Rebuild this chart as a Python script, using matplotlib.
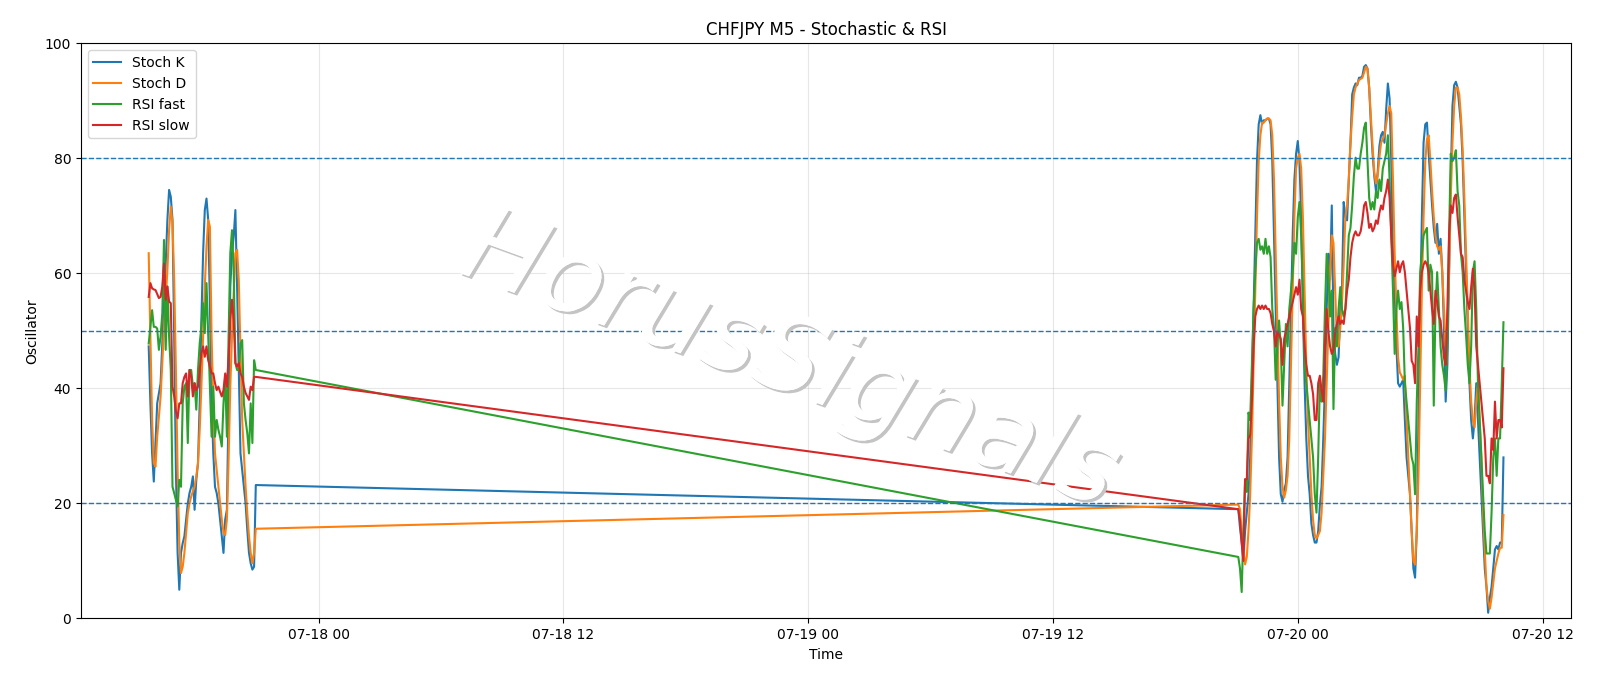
import matplotlib
matplotlib.use("Agg")
import matplotlib.pyplot as plt
import matplotlib.dates as mdates
import matplotlib.patheffects as pe
import pandas as pd

# M5 bars: Friday afternoon session, then Sunday night / Monday morning
times_1 = pd.date_range("2020-07-17 15:40", periods=64, freq="5min")
times_2 = pd.date_range("2020-07-19 21:05", periods=157, freq="5min")

stoch_k_1 = [47.3, 37.4, 28.7, 23.8, 30.5, 37.4, 39.2, 40.9, 47.8, 54.8,
             61.7, 69.3, 74.5, 73.3, 69.3, 49.0, 25.8, 11.4, 5.0, 11.4,
             13.1, 14.3, 17.2, 20.0, 21.8, 22.9, 24.7, 18.9, 24.1, 27.0,
             37.4, 51.9, 63.5, 71.0, 73.0, 69.3, 54.8, 37.4, 28.7, 22.9,
             21.8, 20.0, 17.2, 14.3, 11.4, 17.2, 18.9, 37.4, 57.7, 63.5,
             66.4, 71.0, 57.7, 43.2, 28.7, 25.8, 22.9, 20.0, 15.4, 11.4,
             9.6, 8.5, 9.0, 23.2]
stoch_d_1 = [63.5, 49.0, 34.5, 27.0, 26.4, 31.6, 35.1, 38.6, 44.4, 50.2,
             55.4, 60.6, 67.5, 71.6, 68.7, 58.8, 43.2, 25.8, 13.1, 7.9,
             9.0, 11.4, 14.8, 18.3, 20.0, 21.2, 22.1, 22.9, 24.7, 27.0,
             32.8, 40.3, 49.0, 57.7, 64.6, 69.3, 68.1, 49.0, 37.4, 28.7,
             25.8, 22.9, 20.0, 17.2, 15.0, 14.5, 17.2, 27.6, 40.3, 49.0,
             56.5, 63.5, 64.1, 58.8, 46.1, 34.5, 28.7, 22.9, 18.3, 14.3,
             11.4, 9.6, 11.4, 15.6]
rsi_fast_1 = [47.8, 50.7, 53.6, 50.7, 50.7, 50.4, 46.7, 49.0, 53.1, 65.8,
              46.7, 57.7, 49.0, 43.2, 22.9, 21.8, 20.6, 19.5, 24.1, 22.9,
              37.4, 40.3, 40.9, 30.5, 43.2, 43.2, 40.3, 40.9, 36.3, 43.2,
              47.8, 50.7, 54.8, 49.6, 58.3, 49.0, 40.3, 31.6, 40.3, 31.6,
              34.5, 32.8, 31.6, 29.9, 37.4, 42.0, 31.6, 49.0, 63.5, 67.5,
              60.6, 44.4, 43.2, 43.2, 47.8, 48.4, 37.4, 34.5, 32.2, 28.7,
              37.4, 30.5, 44.9, 43.2]
rsi_slow_1 = [55.9, 58.3, 57.4, 57.2, 57.1, 56.4, 55.7, 55.9, 57.7, 61.7,
              55.4, 57.7, 55.1, 54.8, 40.3, 38.6, 36.0, 34.8, 37.4, 37.4,
              40.9, 42.0, 42.6, 38.6, 43.2, 42.0, 38.6, 40.9, 39.7, 40.3,
              43.2, 46.1, 47.3, 45.5, 47.3, 44.9, 43.8, 42.6, 42.6, 40.9,
              39.7, 40.3, 39.4, 38.6, 39.7, 42.6, 40.3, 45.5, 51.9, 55.4,
              51.9, 44.4, 43.8, 44.4, 42.6, 42.0, 40.3, 39.2, 38.6, 38.0,
              40.3, 39.7, 42.0, 42.0]

stoch_k_2 = [19.0, 15.8, 13.2, 10.0, 15.2, 18.4, 21.6, 28.0, 40.9, 53.8,
             66.6, 79.5, 85.9, 87.5, 85.9, 86.6, 86.6, 86.9, 86.9, 85.9,
             79.5, 66.6, 53.8, 40.9, 28.0, 21.6, 20.3, 22.3, 23.5, 28.0,
             40.9, 53.8, 66.6, 76.3, 80.8, 83.0, 79.5, 69.8, 53.8, 40.9,
             31.3, 24.8, 21.6, 16.5, 14.5, 13.2,
             13.2, 15.2, 19.7, 22.9, 31.3, 40.9, 53.8, 63.4, 58.9, 71.8,
             50.5, 46.0, 44.1, 45.4, 53.8, 57.0, 72.4, 69.8, 69.2, 76.3,
             82.7, 91.1, 92.3, 93.0, 92.7, 94.0, 94.0, 94.3, 95.9,
             96.2, 95.6, 92.3, 85.9, 80.8, 76.9, 74.3, 77.6, 82.1,
             84.0, 84.6, 82.7, 88.5, 93.0, 90.4, 79.5, 63.4, 57.0, 47.3,
             40.9, 40.3, 40.9, 41.5,
             34.5, 28.0, 24.8, 21.6, 15.2, 8.7, 7.1, 15.2, 34.5, 53.8,
             69.8, 82.7, 85.9, 86.2, 80.8, 76.3, 71.8, 67.9, 65.3, 68.6,
             63.4, 66.0, 60.2, 50.5, 37.7, 44.1, 60.2, 76.3, 89.1, 92.7,
             93.3, 92.3, 89.1, 85.9, 79.5, 69.8, 60.2, 50.5, 40.9, 34.5,
             31.3, 34.5, 40.9, 34.5, 28.0, 21.6, 15.2, 8.7, 5.5, 1.0,
             3.6, 5.5, 8.7, 12.0, 12.6, 12.0, 13.2, 13.2, 28.0]
stoch_d_2 = [19.8, 19.0, 15.2, 12.0, 9.4, 10.7, 15.2, 21.6, 31.3, 44.1,
             57.0, 69.8, 79.5, 84.0, 86.2, 86.2, 86.6, 86.9, 86.9, 86.6,
             84.0, 76.3, 63.4, 50.5, 37.7, 28.0, 22.9, 21.0, 22.3, 24.8,
             31.3, 44.1, 57.0, 69.8, 78.2, 80.1, 80.8, 78.2, 69.8, 57.0,
             44.1, 34.5, 28.0, 21.6, 17.1, 14.5,
             13.9, 14.5, 15.2, 18.4, 24.8, 31.3, 40.9, 50.5, 60.2, 66.6,
             65.3, 57.0, 48.6, 47.3, 50.5, 55.0, 61.5, 69.8, 71.8, 76.3,
             82.7, 87.2, 91.1, 92.3, 93.0, 93.6, 93.8, 94.0, 94.9,
             95.9, 95.6, 92.3, 87.2, 82.1, 77.6, 75.6, 76.9, 80.1,
             82.7, 83.3, 84.0, 85.9, 87.8, 89.1, 87.8, 76.3, 63.4, 53.8,
             45.4, 42.8, 42.2, 41.5,
             42.2, 34.5, 28.0, 21.6, 15.2, 10.0, 9.4, 15.2, 24.8, 40.9,
             57.0, 69.8, 79.5, 83.3, 84.0, 79.5, 74.3, 69.8, 66.6, 64.7,
             64.1, 64.7, 60.2, 53.8, 47.3, 50.5, 60.2, 73.1, 82.7, 89.1,
             92.3, 92.3, 91.1, 87.2, 81.4, 73.1, 63.4, 53.8, 44.1, 37.7,
             34.5, 33.2, 37.7, 40.9, 34.5, 28.0, 18.4, 12.0, 5.5, 3.0,
             1.7, 3.6, 6.2, 8.7, 10.0, 11.3, 12.3, 12.3, 18.0]
rsi_fast_2 = [10.7, 8.7, 4.6, 15.2, 24.2, 22.0, 35.8, 34.5, 44.1, 53.8,
              60.2, 65.3, 66.0, 64.1, 64.7, 63.4, 66.0, 63.4, 64.7, 62.8,
              53.8, 50.5, 41.5, 47.3, 51.8, 47.3, 37.0, 44.1, 51.2, 47.3,
              53.8, 57.0, 60.2, 65.3, 63.4, 69.8, 72.4, 66.6, 57.0, 44.1,
              40.9, 37.7, 34.5, 31.3, 28.0, 21.6,
              18.4, 28.0, 40.9, 37.7, 42.2, 53.8, 63.4, 60.2, 52.5, 57.0,
              36.4, 50.5, 47.3, 53.8, 57.6, 53.8, 52.5, 53.8, 60.2, 66.6,
              67.9, 71.8, 76.9, 80.1, 78.2, 78.2, 80.8, 82.7, 85.3,
              86.2, 79.5, 73.1, 71.1, 72.4, 71.1, 74.3, 73.1, 76.3,
              74.3, 78.2, 79.5, 80.8, 84.0, 76.3, 66.6, 57.0, 46.0, 53.8,
              57.0, 53.8, 55.0, 50.5,
              40.9, 37.7, 34.5, 31.3, 28.0, 26.8, 21.6, 37.7, 47.3, 60.2,
              63.4, 66.6, 67.3, 67.9, 57.0, 61.5, 60.2, 37.0, 53.8, 60.2,
              53.8, 47.3, 44.1, 42.2, 39.6, 47.3, 66.6, 80.8, 79.5, 80.1,
              81.4, 74.3, 71.8, 63.4, 60.2, 53.8, 49.3, 44.1, 40.9, 47.3,
              60.2, 62.1, 53.8, 40.9, 34.5, 28.0, 21.6, 15.2, 11.3, 11.3,
              11.3, 18.4, 28.0, 31.3, 24.8, 31.3, 31.3, 40.9, 51.5]
rsi_slow_2 = [19.0, 17.1, 13.2, 10.0, 24.2, 24.2, 31.3, 31.9, 37.7, 47.3,
              52.5, 53.8, 54.4, 53.8, 54.4, 53.8, 54.4, 53.8, 53.8, 53.1,
              51.2, 49.9, 47.3, 49.9, 49.3, 48.6, 44.1, 48.6, 49.9, 51.2,
              52.5, 53.8, 55.0, 56.3, 57.6, 56.3, 58.9, 53.8, 52.5, 47.3,
              44.1, 42.2, 42.2, 40.9, 39.0, 34.5,
              34.5, 40.9, 42.2, 39.6, 37.7, 47.3, 53.8, 49.9, 47.3, 46.0,
              46.7, 49.9, 51.2, 52.5, 51.2, 51.8, 51.2, 53.8, 57.0, 58.9,
              62.8, 65.3, 66.6, 67.3, 66.6, 66.6, 67.3, 69.2, 71.8,
              72.4, 70.5, 67.9, 68.6, 67.3, 67.9, 69.2, 68.6, 70.5,
              71.8, 71.1, 73.1, 74.3, 76.3, 73.1, 66.6, 61.5, 59.5, 60.8,
              62.1, 60.2, 61.5, 62.1,
              60.2, 57.0, 53.8, 50.5, 44.8, 44.1, 40.9, 52.5, 47.3, 57.0,
              60.2, 61.5, 62.1, 61.5, 60.2, 57.0, 53.8, 51.2, 57.0, 55.0,
              52.5, 51.8, 48.6, 45.4, 44.1, 53.8, 66.6, 71.8, 70.5, 73.1,
              73.7, 69.8, 66.6, 63.4, 62.8, 58.9, 57.0, 55.0, 53.8, 57.6,
              60.8, 57.0, 47.3, 44.1, 40.9, 37.7, 34.5, 31.3, 24.8, 24.8,
              23.5, 31.3, 29.3, 37.7, 31.3, 34.5, 34.5, 33.2, 43.5]

levels = [20, 50, 80]

times = times_1.append(times_2)
df = pd.DataFrame({
    "Stoch K": stoch_k_1 + stoch_k_2,
    "Stoch D": stoch_d_1 + stoch_d_2,
    "RSI fast": rsi_fast_1 + rsi_fast_2,
    "RSI slow": rsi_slow_1 + rsi_slow_2,
}, index=times)

fig = plt.figure(figsize=(16, 6.86), dpi=100)
ax = fig.add_axes([0.0506, 0.0984, 0.9314, 0.8386])

for col in df.columns:
    ax.plot(df.index, df[col], label=col, linewidth=1.5)

for lv in levels:
    ax.axhline(lv, color="C0", linestyle="--", linewidth=1)

ax.set_ylim(0, 100)
ax.set_title("CHFJPY M5 - Stochastic & RSI")
ax.set_xlabel("Time")
ax.set_ylabel("Oscillator")
ax.grid(True, alpha=0.3)
ax.legend(loc="upper left")
ax.xaxis.set_major_locator(mdates.HourLocator(byhour=[0, 12]))
ax.xaxis.set_major_formatter(mdates.DateFormatter("%m-%d %H"))

# watermark
fig.text(0.4936, 0.472, "HorusSignals", fontsize=76, rotation=-20, style="italic",
         color="white", ha="center", va="center", zorder=10,
         path_effects=[pe.withSimplePatchShadow(offset=(2, -2), shadow_rgbFace="#c4c4c4", alpha=1.0),
                       pe.Normal()])

fig.savefig("out.png", dpi=100)
